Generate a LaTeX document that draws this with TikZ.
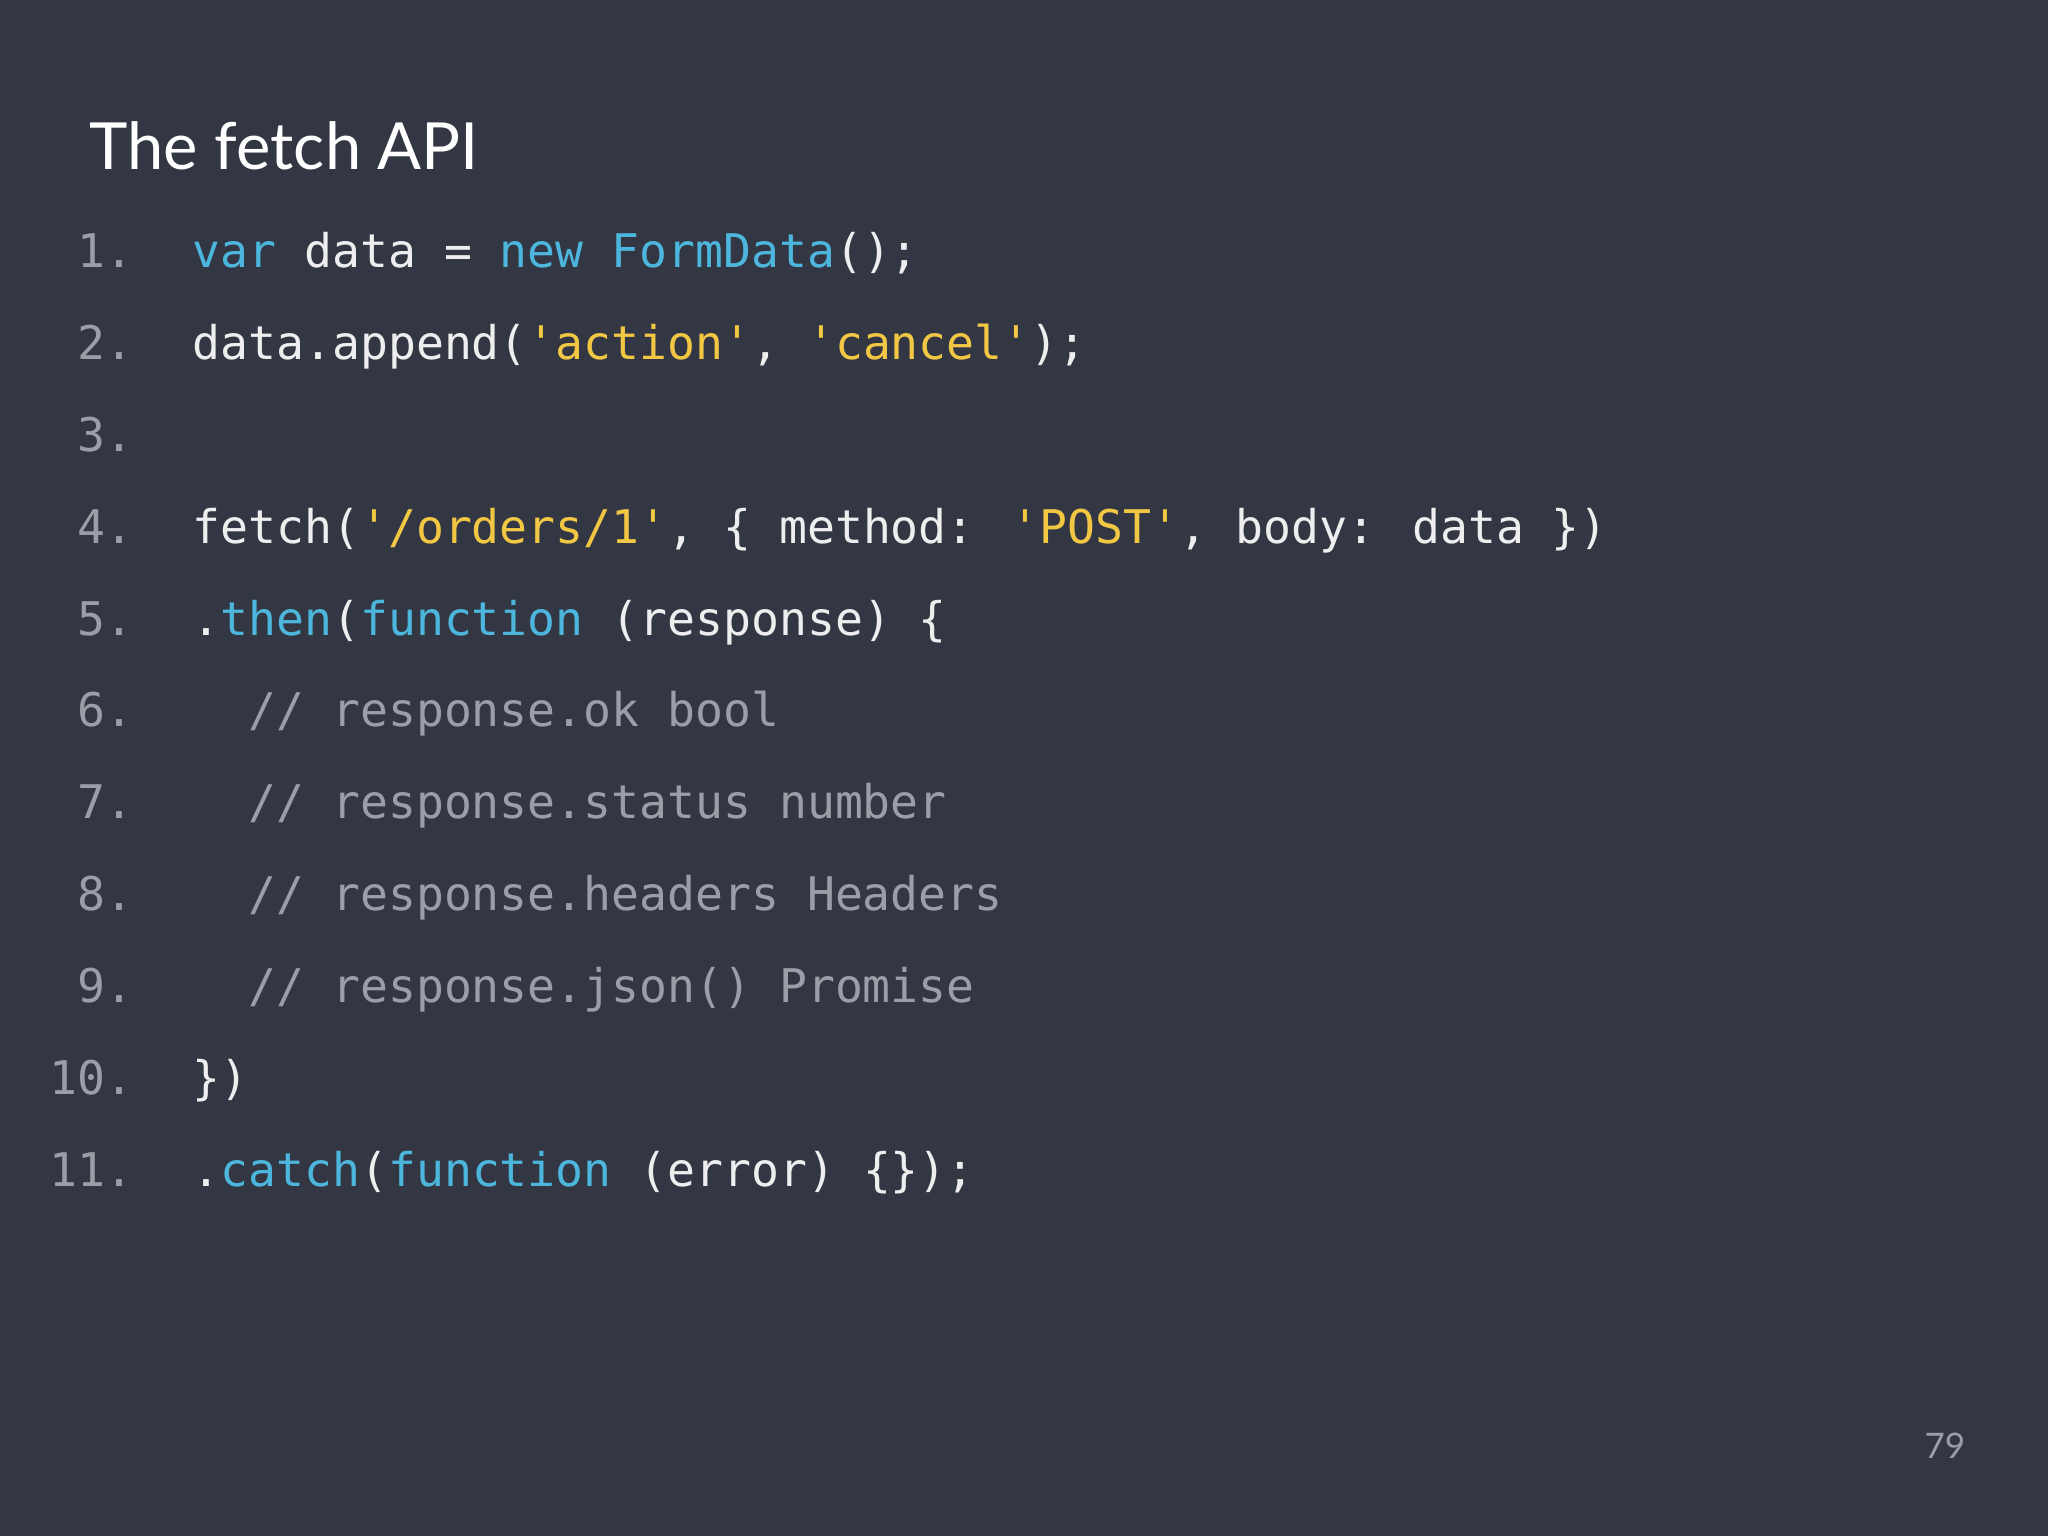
\documentclass[tikz,border=0pt]{standalone}
\usepackage{fontspec}
\setmainfont{Lato}
\newfontfamily\codefont{DejaVu Sans Mono}
\usetikzlibrary{positioning}
\definecolor{slidebg}{HTML}{323743}
\definecolor{kw}{HTML}{4DB6DC}
\definecolor{str}{HTML}{F2C744}
\definecolor{txt}{HTML}{EEEEEE}
\definecolor{cmt}{HTML}{9A9EA6}
\newcommand{\K}[1]{\textcolor{kw}{#1}}
\newcommand{\Sq}[1]{\textcolor{str}{'#1'}}
\tikzset{lineno/.style = {anchor=base east, inner sep=0, text=cmt, font=\codefont\fontsize{13.2}{16}\selectfont}}
\tikzset{code/.style = {anchor=base west, inner sep=0, text=txt, font=\codefont\fontsize{13.2}{16}\selectfont}}

\begin{document}
\begin{tikzpicture}[x=1cm, y=-1cm]
  \fill [slidebg] (0,0) rectangle (20.48,15.36);
  \useasboundingbox (0,0) rectangle (20.48,15.36);
  \node [anchor=base west, inner sep=0, text=white, font=\fontsize{18.5}{22}\selectfont] (title) at (0.89,1.70) {The fetch API};
  \foreach \i in {1,...,11}
    \node [lineno] (n\i) at (1.34,{2.68+(\i-1)*0.918}) {\i.};
  \node [code] (c1) at (1.92,2.68) {\K{var} data = \K{new} \K{FormData}();};
  \node [code] (c2) at (1.92,3.598) {data.append(\Sq{action}, \Sq{cancel});};
  \node [code] (c4) at (1.92,5.434) {fetch(\Sq{/orders/1}, \{ method: \Sq{POST}, body: data \})};
  \node [code] (c5) at (1.92,6.352) {.\K{then}(\K{function} (response) \{};
  \node [code, text=cmt] (c6) at (1.92,7.27) {\ \ // response.ok bool};
  \node [code, text=cmt] (c7) at (1.92,8.188) {\ \ // response.status number};
  \node [code, text=cmt] (c8) at (1.92,9.106) {\ \ // response.headers Headers};
  \node [code, text=cmt] (c9) at (1.92,10.024) {\ \ // response.json() Promise};
  \node [code] (c10) at (1.92,10.942) {\})};
  \node [code] (c11) at (1.92,11.86) {.\K{catch}(\K{function} (error) \{\});};
  \node [anchor=base east, inner sep=0, text=cmt, font=\fontsize{10}{12}\selectfont] (page) at (19.66,14.58) {79};
\end{tikzpicture}
\end{document}
